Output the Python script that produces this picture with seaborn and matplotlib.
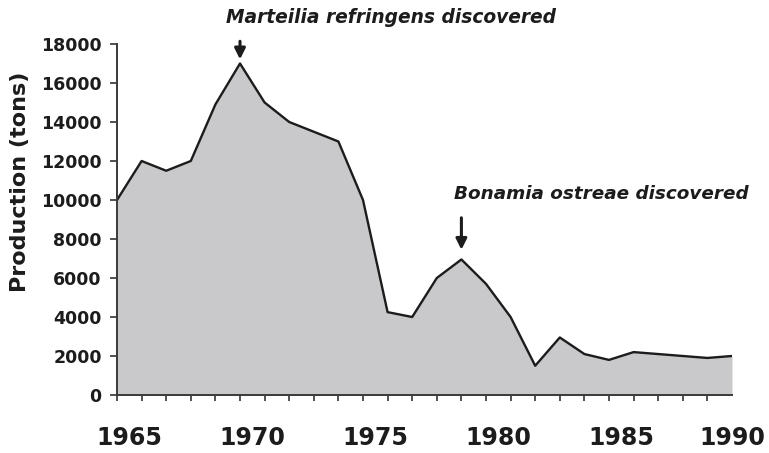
import matplotlib
matplotlib.use("Agg")
import matplotlib.pyplot as plt
import matplotlib.transforms as mtransforms
from matplotlib.ticker import FixedLocator
import pandas as pd
import seaborn as sns

# Annual flat-oyster production, 1965-1990
years = list(range(1965, 1991))
production = [10000, 12000, 11500, 12000, 14900, 17000, 15000, 14000, 13500, 13000,
              10000, 4250, 4000, 6000, 6950, 5700, 4000, 1500, 2950, 2100,
              1800, 2200, 2100, 2000, 1900, 2000]

year_labels = [1965, 1970, 1975, 1980, 1985, 1990]
y_ticks = list(range(0, 18001, 2000))

events = ["Marteilia refringens discovered", "Bonamia ostreae discovered"]
event_years = [1970, 1979]

df = pd.DataFrame({"year": years, "production": production})

sns.set_theme(style="ticks")
plt.rcParams["font.family"] = ["DejaVu Sans"]

ink = "#1c1c1c"
fig = plt.figure(figsize=(7.69, 4.53), dpi=100)
ax = fig.add_axes([117 / 769, 1 - 395 / 453, (732 - 117) / 769, (395 - 44) / 453])

ax.fill_between(df["year"], df["production"], 0, color="#c9c9cb", linewidth=0, zorder=1)
sns.lineplot(data=df, x="year", y="production", ax=ax, color=ink, linewidth=1.7, zorder=2)

ax.set_xlim(years[0], years[-1])
ax.set_ylim(0, 18000)

# y axis
ax.yaxis.set_major_locator(FixedLocator(y_ticks))
ax.set_yticklabels([str(v) for v in y_ticks], fontsize=12.5, fontweight="bold", color=ink)
ax.tick_params(axis="y", which="major", length=5, width=1.2, color="#333333", pad=6)

# x axis: a mark every year, labels every five years
ax.xaxis.set_major_locator(FixedLocator(years))
ax.set_xticklabels([str(y) if y in year_labels else "" for y in years],
                   fontsize=17, fontweight="bold", color=ink)
ax.tick_params(axis="x", which="major", length=4.5, width=1.2, color="#333333", pad=18)
ax.tick_params(axis="x", which="minor", length=0)
ax.xaxis.get_major_ticks()[-1].tick1line.set_visible(False)
shift = mtransforms.ScaledTranslation(12 / 100, 0, fig.dpi_scale_trans)
for y, lab in zip(years, ax.get_xticklabels()):
    if y != years[-1]:
        lab.set_transform(lab.get_transform() + shift)

ax.set_xlabel("")
ax.set_ylabel("Production (tons)", fontsize=16, fontweight="bold", color=ink)
ax.yaxis.set_label_coords(-0.142, 0.607)

sns.despine(ax=ax)
for side in ("left", "bottom"):
    ax.spines[side].set_color("#3a3a3a")
    ax.spines[side].set_linewidth(1.4)

# discovery annotations
peak_vals = [production[years.index(y)] for y in event_years]
ax.annotate("", xy=(event_years[0], peak_vals[0]), xycoords="data",
            xytext=(0, 16), textcoords="offset points",
            arrowprops=dict(arrowstyle="-|>", color=ink, lw=2.2, mutation_scale=16,
                            shrinkA=0, shrinkB=-3))
ax.annotate("", xy=(event_years[1], peak_vals[1]), xycoords="data",
            xytext=(0, 30), textcoords="offset points",
            arrowprops=dict(arrowstyle="-|>", color=ink, lw=2.2, mutation_scale=16,
                            shrinkA=0, shrinkB=7))

ax.text((391 - 117) / 615, (395 - 18) / 351, events[0], transform=ax.transAxes,
        ha="center", va="center", fontsize=13.4, fontweight="bold", fontstyle="italic",
        color=ink, clip_on=False)
ax.text((601 - 117) / 615, (395 - 194) / 351, events[1], transform=ax.transAxes,
        ha="center", va="center", fontsize=13.2, fontweight="bold", fontstyle="italic",
        color=ink, clip_on=False)

fig.savefig("out.png", dpi=100, facecolor="white")
